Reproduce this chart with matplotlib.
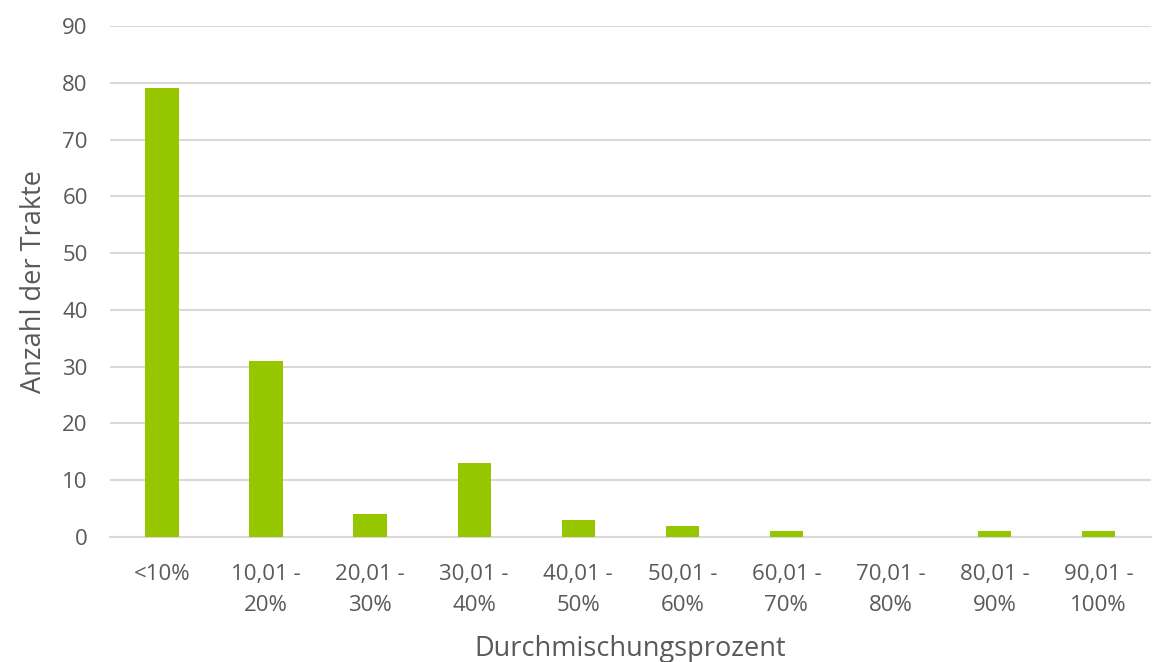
import matplotlib
matplotlib.use("Agg")
import matplotlib.pyplot as plt

categories = ["<10%", "10,01 -\n20%", "20,01 -\n30%", "30,01 -\n40%", "40,01 -\n50%",
              "50,01 -\n60%", "60,01 -\n70%", "70,01 -\n80%", "80,01 -\n90%", "90,01 -\n100%"]
counts = [79, 31, 4, 13, 3, 2, 1, 0, 1, 1]
y_ticks = [0, 10, 20, 30, 40, 50, 60, 70, 80, 90]

text_color = "#595959"
bar_color = "#95C600"
grid_color = "#D9D9D9"

plt.rcParams["font.family"] = ["Open Sans", "DejaVu Sans"]

fig = plt.figure(figsize=(11.53, 6.62), dpi=100)
ax = fig.add_axes([0.0954, 0.1888, 0.9025, 0.7719])

x = list(range(len(categories)))
ax.bar(x, counts, width=0.32, color=bar_color, zorder=3)

ax.set_xlim(-0.5, len(categories) - 0.5)
ax.set_ylim(0, 90)
ax.set_yticks(y_ticks)
ax.set_yticklabels([str(v) for v in y_ticks])
ax.set_xticks(x)
ax.set_xticklabels(categories, linespacing=1.65)

ax.yaxis.grid(True, color=grid_color, linewidth=1.5, zorder=0)
ax.set_axisbelow(True)
for side in ["top", "right", "left"]:
    ax.spines[side].set_visible(False)
ax.spines["bottom"].set_color(grid_color)
ax.spines["bottom"].set_linewidth(1.5)

ax.tick_params(axis="both", length=0, labelcolor=text_color, labelsize=16)
ax.tick_params(axis="y", pad=16)
ax.tick_params(axis="x", pad=19.5)

ax.set_ylabel("Anzahl der Trakte", color=text_color, fontsize=19.5, labelpad=10)
ax.set_xlabel("Durchmischungsprozent", color=text_color, fontsize=19.5, labelpad=13)

fig.savefig("out.png", dpi=100, facecolor="white")
